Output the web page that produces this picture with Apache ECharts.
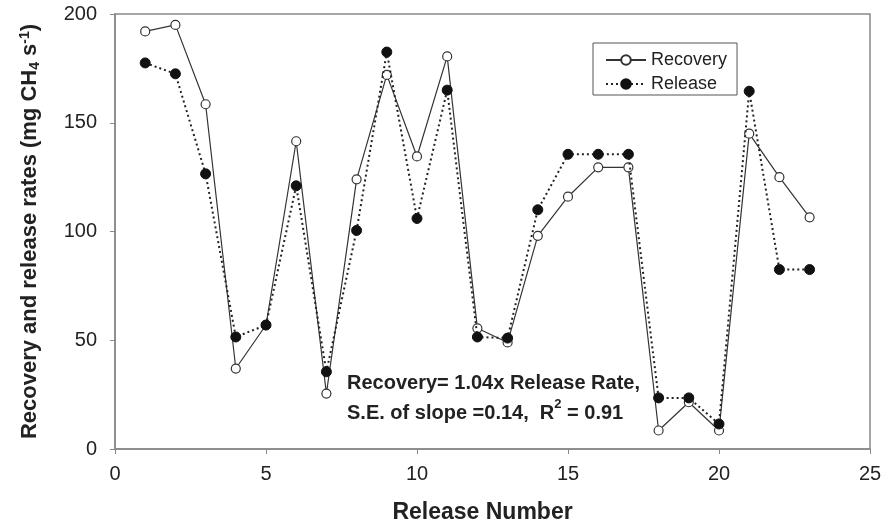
<!DOCTYPE html>
<html>
<head>
<meta charset="utf-8">
<script src="https://cdn.jsdelivr.net/npm/echarts@6/dist/echarts.min.js"></script>
<style>
  html, body { margin: 0; padding: 0; background: #fff; }
  #chart { width: 882px; height: 522px; }
</style>
</head>
<body>
<div id="chart"></div>
<script>
const releaseNumbers = [1, 2, 3, 4, 5, 6, 7, 8, 9, 10, 11, 12, 13, 14, 15, 16, 17, 18, 19, 20, 21, 22, 23];
const recovery = [192, 195, 158.5, 37, 57, 141.5, 25.5, 124, 172, 134.5, 180.5, 55.5, 49, 98, 116, 129.5, 129.5, 8.5, 21.5, 8.5, 145, 125, 106.5];
const release = [177.5, 172.5, 126.5, 51.5, 57, 121, 35.5, 100.5, 182.5, 106, 165, 51.5, 51, 110, 135.5, 135.5, 135.5, 23.5, 23.5, 11.5, 164.5, 82.5, 82.5];
const xTicks = [0, 5, 10, 15, 20, 25];
const yTicks = [0, 50, 100, 150, 200];

const font = '"Liberation Sans", Arial, sans-serif';
const myChart = echarts.init(document.getElementById('chart'));
const option = {
    animation: false,
    backgroundColor: '#fff',
    grid: {
        left: 115, right: 12, top: 14, bottom: 73,
        outerBoundsMode: 'none',
        show: true, borderColor: '#888', borderWidth: 1.5
    },
    legend: {
        orient: 'vertical',
        left: 593, top: 43,
        padding: [8, 10, 2, 12],
        itemGap: 6,
        itemWidth: 40, itemHeight: 12,
        borderColor: '#555', borderWidth: 1,
        textStyle: { fontFamily: font, fontSize: 18, color: '#222' },
        data: ['Recovery', 'Release']
    },
    xAxis: {
        type: 'value',
        min: xTicks[0], max: xTicks[xTicks.length - 1], interval: 5,
        name: 'Release Number',
        nameLocation: 'middle', nameGap: 52,
        nameTextStyle: { fontFamily: font, fontSize: 23, fontWeight: 'bold', color: '#222', padding: [0, 20, 0, 0] },
        axisLine: { lineStyle: { color: '#888', width: 1.5 } },
        axisTick: { lineStyle: { color: '#888' }, length: 5 },
        axisLabel: { fontFamily: font, fontSize: 20, color: '#222', margin: 15 },
        splitLine: { show: false }
    },
    yAxis: {
        type: 'value',
        min: yTicks[0], max: yTicks[yTicks.length - 1], interval: 50,
        name: 'Recovery and release rates (mg CH{sub|4} s{sup|-1})',
        nameLocation: 'middle', nameGap: 73,
        nameTextStyle: {
            fontFamily: font, fontSize: 22, fontWeight: 'bold', color: '#222',
            rich: {
                sub: { fontFamily: font, fontSize: 14, fontWeight: 'bold', color: '#222', verticalAlign: 'bottom', padding: [10, 0, 0, 0] },
                sup: { fontFamily: font, fontSize: 14, fontWeight: 'bold', color: '#222', verticalAlign: 'top', padding: [0, 0, 10, 0] }
            }
        },
        axisLine: { show: true, lineStyle: { color: '#888', width: 1.5 } },
        axisTick: { show: true, lineStyle: { color: '#888' }, length: 5 },
        axisLabel: { fontFamily: font, fontSize: 20, color: '#222', margin: 18 },
        splitLine: { show: false }
    },
    graphic: [{
        type: 'text',
        left: 347, top: 368,
        style: {
            text: 'Recovery= 1.04x Release Rate,\nS.E. of slope =0.14,  R{sup|2} = 0.91',
            font: 'bold 20px "Liberation Sans", Arial, sans-serif',
            fill: '#222',
            lineHeight: 30,
            rich: {
                sup: { font: 'bold 13px "Liberation Sans", Arial, sans-serif', fill: '#222', verticalAlign: 'top', padding: [0, 0, 6, 0] }
            }
        }
    }],
    series: [
        {
            name: 'Recovery',
            type: 'line',
            data: releaseNumbers.map((n, i) => [n, recovery[i]]),
            symbol: 'circle', symbolSize: 9,
            itemStyle: { color: '#fff', borderColor: '#333', borderWidth: 1.2 },
            lineStyle: { color: '#333', width: 1.2, type: 'solid' },
            z: 3
        },
        {
            name: 'Release',
            type: 'line',
            data: releaseNumbers.map((n, i) => [n, release[i]]),
            symbol: 'circle', symbolSize: 10,
            itemStyle: { color: '#111', borderColor: '#111', borderWidth: 1 },
            lineStyle: { color: '#222', width: 2, type: [2, 3] },
            z: 4
        }
    ]
};
myChart.setOption(option);
</script>
</body>
</html>
